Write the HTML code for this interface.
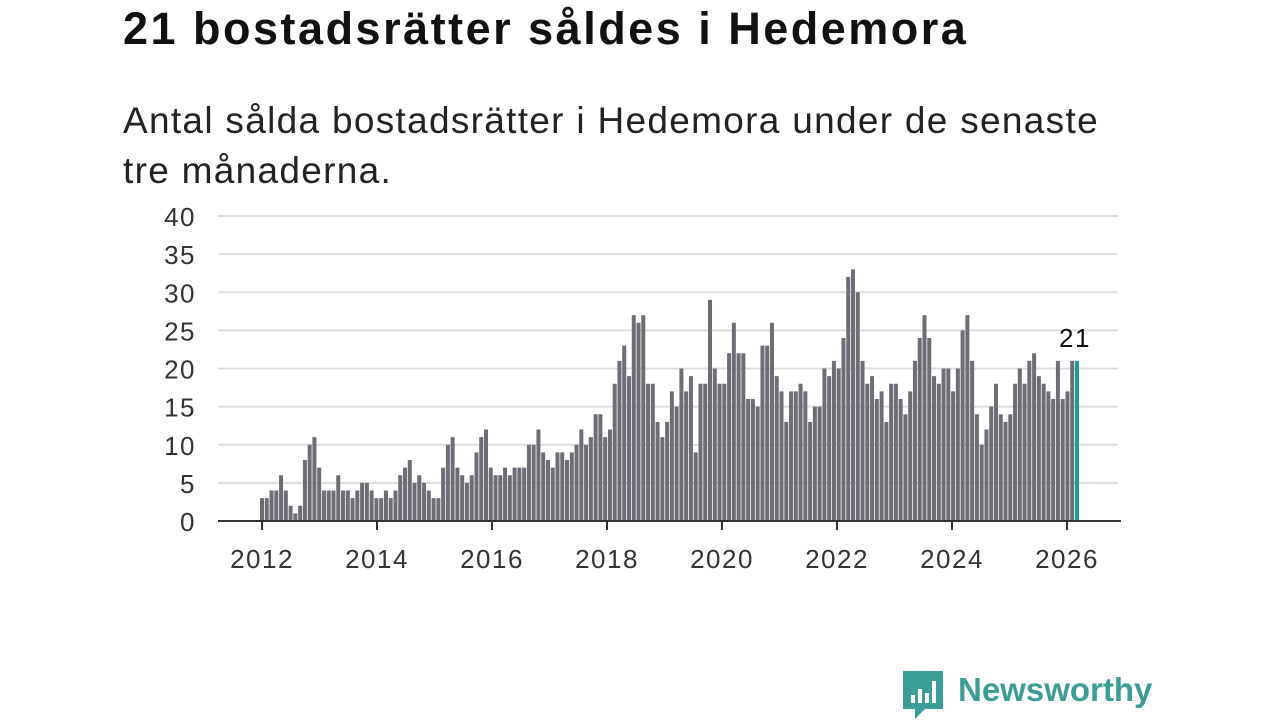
<!DOCTYPE html>
<html><head><meta charset="utf-8"><style>
body{margin:0;width:1280px;height:720px;background:#fff;overflow:hidden;font-family:"Liberation Sans","DejaVu Sans",sans-serif;color:#111}
h1{position:absolute;left:123px;top:3px;margin:0;font-size:45px;font-weight:bold;letter-spacing:2.5px;white-space:nowrap}
p{position:absolute;left:123px;top:96px;margin:0;font-size:37px;line-height:50px;width:1100px;color:#222;letter-spacing:1.3px}
svg{position:absolute;left:0;top:0}
.tk{letter-spacing:1.5px}
</style></head><body>
<h1>21 bostadsrätter såldes i Hedemora</h1>
<p>Antal sålda bostadsrätter i Hedemora under de senaste<br>tre månaderna.</p>
<svg id="chart" width="1280" height="720"></svg>
<div style="position:absolute;left:903px;top:671px;">
<svg width="42" height="48" style="position:absolute;left:0;top:0">
<path d="M0 0H40V38H22L12 48V38H0Z" fill="#3a9e96"/>
<rect x="8" y="24" width="4" height="8" fill="#fff"/><rect x="15" y="18" width="4" height="14" fill="#fff"/><rect x="22" y="22" width="4" height="10" fill="#fff"/><rect x="29" y="10" width="4" height="22" fill="#fff"/>
</svg>
<span style="position:absolute;left:55px;top:0;font-size:33px;font-weight:bold;color:#3a9e96;white-space:nowrap">Newsworthy</span>
</div>
<script>
const values=[3,3,4,4,6,4,2,1,2,8,10,11,7,4,4,4,6,4,4,3,4,5,5,4,3,3,4,3,4,6,7,8,5,6,5,4,3,3,7,10,11,7,6,5,6,9,11,12,7,6,6,7,6,7,7,7,10,10,
12,9,8,7,9,9,8,9,10,12,10,11,14,14,11,12,18,21,23,19,27,26,27,18,18,13,11,13,17,15,20,17,19,9,18,18,29,20,18,18,22,26,22,22,16,16,15,23,23,26,19,17,13,17,17,18,17,13,15,15,20,
19,21,20,24,32,33,30,21,18,19,16,17,13,18,18,16,14,17,21,24,27,24,19,18,20,20,17,20,25,27,21,14,10,12,15,18,14,13,14,18,20,18,21,22,19,18,17,16,21,16,17,21,21];
const yTicks=[0,5,10,15,20,25,30,35,40];
const xTickYears=[2012,2014,2016,2018,2020,2022,2024,2026];
const NS="http://www.w3.org/2000/svg";
const svg=document.getElementById('chart');
const y=v=>521-v*7.625;
const xYear=yr=>262+(yr-2012)*57.5;
const xIdx=i=>262+i*(1077-262)/(values.length-1);
function mk(t,a){const e=document.createElementNS(NS,t);for(const k in a)e.setAttribute(k,a[k]);svg.appendChild(e);return e;}
yTicks.forEach(v=>{
  const g=mk('line',{x1:218,x2:1118,y1:y(v),y2:y(v),stroke:'#dcdcdc','stroke-width':2});
  
  
  const t=mk('text',{x:196,y:y(v)+10,'text-anchor':'end','font-size':26,fill:'#333','class':'tk'});
  t.textContent=v;
  
  
});
values.forEach((v,i)=>{
  const last=i===values.length-1;
  const r=mk('rect',{x:xIdx(i)-2,y:y(v),width:4,height:521-y(v),fill:last?'#1a9e96':'#6e6d75'});
  
  
});
const lb=mk('text',{x:xIdx(values.length-1)-2,y:y(values[values.length-1])-14,'text-anchor':'middle','font-size':26,fill:'#111','class':'tk'});
lb.textContent=values[values.length-1];


const ax=mk('line',{x1:218,x2:1121,y1:521,y2:521,stroke:'#333','stroke-width':2});


xTickYears.forEach(yr=>{
  const tk=mk('line',{x1:xYear(yr),x2:xYear(yr),y1:521,y2:530,stroke:'#333','stroke-width':2});
  
  
  const t=mk('text',{x:xYear(yr),y:568,'text-anchor':'middle','font-size':26,fill:'#333','class':'tk'});
  t.textContent=yr;
  
  
});
</script>
</body></html>
